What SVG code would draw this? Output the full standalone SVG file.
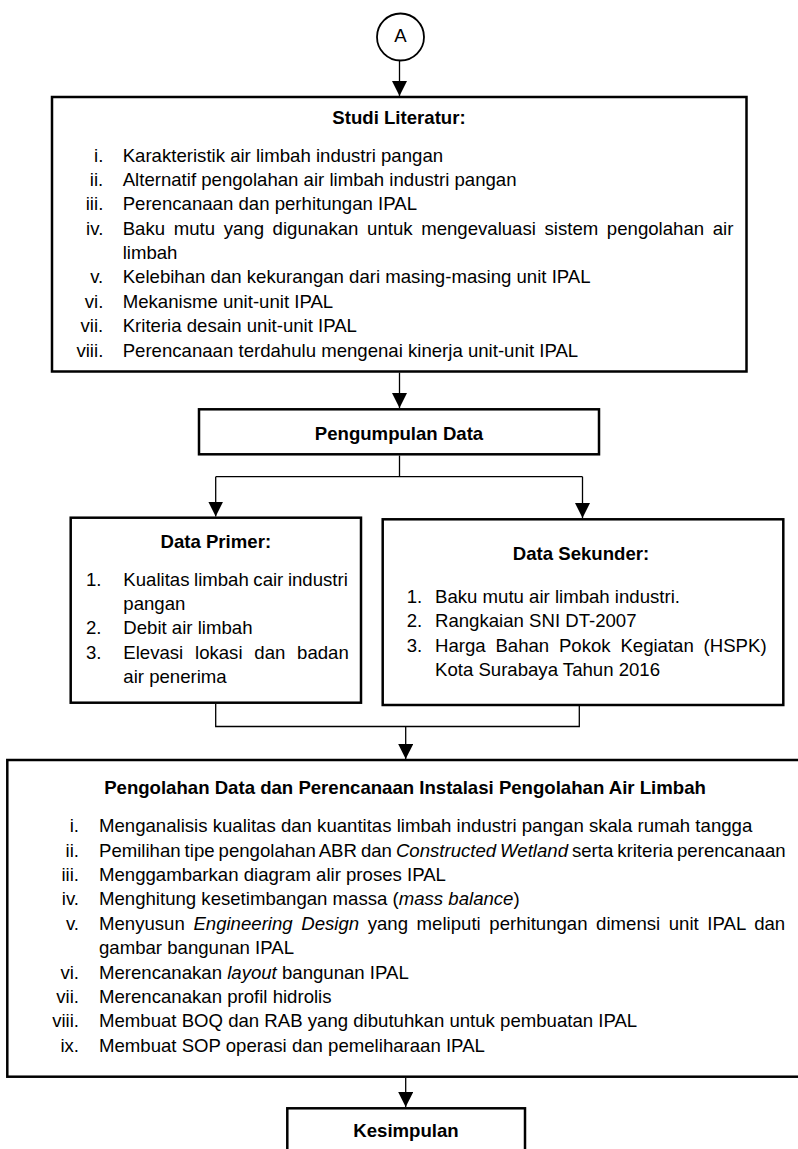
<svg xmlns="http://www.w3.org/2000/svg" width="798" height="1149" viewBox="0 0 798 1149">
<defs>
<style>
.t{font-family:'Liberation Sans',Arial,Helvetica,sans-serif;font-size:18.6px;fill:#000}
.b{font-weight:bold}
.c{text-anchor:middle}
.e{text-anchor:end}
.i{font-style:italic}
.box{fill:#fff;stroke:#000;stroke-width:2.5}
.ln{fill:none;stroke:#000;stroke-width:1.3}
</style>
<marker id="arr" markerUnits="userSpaceOnUse" markerWidth="15" markerHeight="15" refX="15" refY="7.5" orient="auto" viewBox="0 0 15 15"><path d="M0,0 L15,7.5 L0,15 Z" fill="#000"/></marker>
</defs>
<rect width="798" height="1149" fill="#fff"/>

<g id="connectors" class="ln">
<path d="M399.5,60.5 V96" marker-end="url(#arr)"/>
<path d="M399.5,372.5 V408" marker-end="url(#arr)"/>
<path d="M399.5,455.5 V476.7"/>
<path d="M215.7,476.7 H582.5"/>
<path d="M215.7,476.7 V516.5" marker-end="url(#arr)"/>
<path d="M582.5,476.7 V518" marker-end="url(#arr)"/>
<path d="M215.7,704 V726.5 H579.3 V706"/>
<path d="M405.7,726.5 V759" marker-end="url(#arr)"/>
<path d="M405.7,1078 V1107" marker-end="url(#arr)"/>
</g>

<g id="node-a">
<circle cx="400.5" cy="37" r="23.5" fill="#fff" stroke="#000" stroke-width="1.8"/>
<text class="t c" x="400.5" y="42">A</text>
</g>

<g id="studi-literatur">
<rect class="box" x="52" y="97" width="694.5" height="274.5"/>
<text class="t b c" x="399" y="124.3">Studi Literatur:</text>
<text class="t e" x="103.3" y="161.7">i.</text>
<text class="t" x="122.7" y="161.7">Karakteristik air limbah industri pangan</text>
<text class="t e" x="103.3" y="186">ii.</text>
<text class="t" x="122.7" y="186">Alternatif pengolahan air limbah industri pangan</text>
<text class="t e" x="103.3" y="210.3">iii.</text>
<text class="t" x="122.7" y="210.3">Perencanaan dan perhitungan IPAL</text>
<text class="t e" x="103.3" y="234.7">iv.</text>
<text class="t" x="122.7" y="234.7" style="word-spacing:3.46px">Baku mutu yang digunakan untuk mengevaluasi sistem pengolahan air</text>
<text class="t" x="122.7" y="259">limbah</text>
<text class="t e" x="103.3" y="283.4">v.</text>
<text class="t" x="122.7" y="283.4">Kelebihan dan kekurangan dari masing-masing unit IPAL</text>
<text class="t e" x="103.3" y="307.8">vi.</text>
<text class="t" x="122.7" y="307.8">Mekanisme unit-unit IPAL</text>
<text class="t e" x="103.3" y="332.2">vii.</text>
<text class="t" x="122.7" y="332.2">Kriteria desain unit-unit IPAL</text>
<text class="t e" x="103.3" y="356.6">viii.</text>
<text class="t" x="122.7" y="356.6">Perencanaan terdahulu mengenai kinerja unit-unit IPAL</text>
</g>

<g id="pengumpulan-data">
<rect class="box" x="199" y="409.3" width="400" height="45"/>
<text class="t b c" x="399" y="440">Pengumpulan Data</text>
</g>

<g id="data-primer">
<rect class="box" x="70.7" y="517.7" width="290.3" height="185"/>
<text class="t b c" x="215.8" y="548.3">Data Primer:</text>
<text class="t" x="86" y="585.7">1.</text>
<text class="t" x="123.3" y="585.7" style="word-spacing:-0.6px">Kualitas limbah cair industri</text>
<text class="t" x="123.3" y="610">pangan</text>
<text class="t" x="86" y="634.3">2.</text>
<text class="t" x="123.3" y="634.3">Debit air limbah</text>
<text class="t" x="86" y="658.7">3.</text>
<text class="t" x="123.3" y="658.7" style="word-spacing:6.6px">Elevasi lokasi dan badan</text>
<text class="t" x="123.3" y="683.1">air penerima</text>
</g>

<g id="data-sekunder">
<rect class="box" x="382.7" y="519.3" width="400.6" height="185.7"/>
<text class="t b c" x="581" y="560">Data Sekunder:</text>
<text class="t" x="406.7" y="603">1.</text>
<text class="t" x="435" y="603">Baku mutu air limbah industri.</text>
<text class="t" x="406.7" y="627.4">2.</text>
<text class="t" x="435" y="627.4">Rangkaian SNI DT-2007</text>
<text class="t" x="406.7" y="651.8">3.</text>
<text class="t" x="435" y="651.8" style="word-spacing:4.6px">Harga Bahan Pokok Kegiatan (HSPK)</text>
<text class="t" x="435" y="676.2">Kota Surabaya Tahun 2016</text>
</g>

<g id="pengolahan-data">
<rect class="box" x="7.3" y="760" width="795" height="316.7"/>
<text class="t b c" x="405" y="794">Pengolahan Data dan Perencanaan Instalasi Pengolahan Air Limbah</text>
<text class="t e" x="79" y="832.3">i.</text>
<text class="t" x="99" y="832.3">Menganalisis kualitas dan kuantitas limbah industri pangan skala rumah tangga</text>
<text class="t e" x="79" y="856.7">ii.</text>
<text class="t" x="99" y="856.7" style="word-spacing:-1.2px">Pemilihan tipe pengolahan ABR dan <tspan class="i">Constructed Wetland</tspan> serta kriteria perencanaan</text>
<text class="t e" x="79" y="881">iii.</text>
<text class="t" x="99" y="881">Menggambarkan diagram alir proses IPAL</text>
<text class="t e" x="79" y="905.4">iv.</text>
<text class="t" x="99" y="905.4">Menghitung kesetimbangan massa (<tspan class="i">mass balance</tspan>)</text>
<text class="t e" x="79" y="929.8">v.</text>
<text class="t" x="99" y="929.8" style="word-spacing:3.43px">Menyusun <tspan class="i">Engineering Design</tspan> yang meliputi perhitungan dimensi unit IPAL dan</text>
<text class="t" x="99" y="954.2">gambar bangunan IPAL</text>
<text class="t e" x="79" y="978.6">vi.</text>
<text class="t" x="99" y="978.6">Merencanakan <tspan class="i">layout</tspan> bangunan IPAL</text>
<text class="t e" x="79" y="1003">vii.</text>
<text class="t" x="99" y="1003">Merencanakan profil hidrolis</text>
<text class="t e" x="79" y="1027.4">viii.</text>
<text class="t" x="99" y="1027.4">Membuat BOQ dan RAB yang dibutuhkan untuk pembuatan IPAL</text>
<text class="t e" x="79" y="1051.8">ix.</text>
<text class="t" x="99" y="1051.8">Membuat SOP operasi dan pemeliharaan IPAL</text>
</g>

<g id="kesimpulan">
<rect class="box" x="287.3" y="1108.3" width="237.7" height="60"/>
<text class="t b c" x="406" y="1137.3">Kesimpulan</text>
</g>
</svg>
